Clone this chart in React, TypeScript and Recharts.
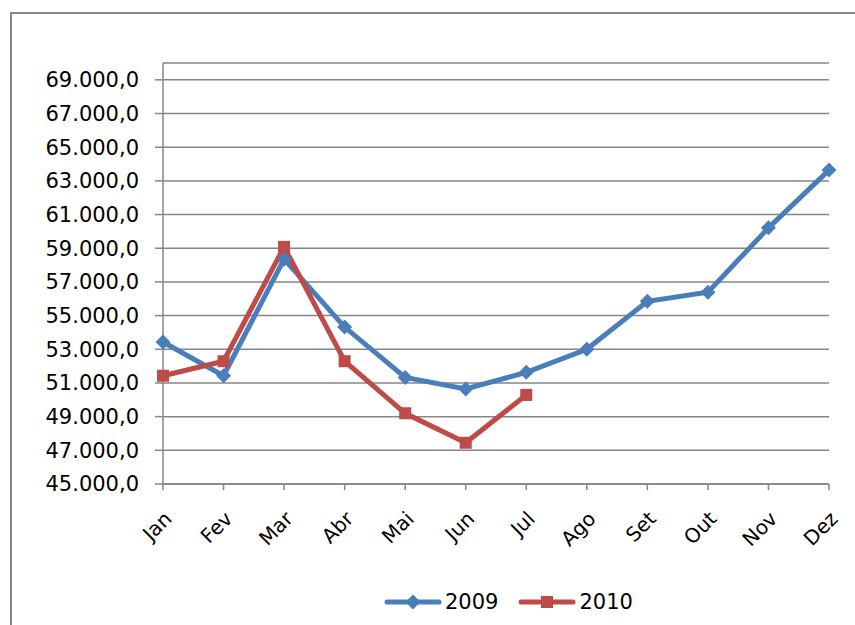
import React from 'react';
import { LineChart, Line, XAxis, YAxis, CartesianGrid } from 'recharts';

const months = ['Jan', 'Fev', 'Mar', 'Abr', 'Mai', 'Jun', 'Jul', 'Ago', 'Set', 'Out', 'Nov', 'Dez'];
const values2009 = [53430, 51430, 58350, 54320, 51330, 50640, 51630, 53000, 55850, 56390, 60210, 63640];
const values2010 = [51430, 52290, 59080, 52290, 49200, 47450, 50290];
const yTicks = [45000, 47000, 49000, 51000, 53000, 55000, 57000, 59000, 61000, 63000, 65000, 67000, 69000];

const data = months.map((m, i) => ({
  month: m,
  y2009: values2009[i],
  y2010: i < values2010.length ? values2010[i] : null,
}));

const BLUE = '#4a7ebb';
const RED = '#be4b48';
const GRAY = '#868686';
const FONT = '"DejaVu Sans", sans-serif';

// 45000 -> "45.000,0"
const fmt = (v: number) => {
  const s = Math.round(v).toString().replace(/\B(?=(\d{3})+(?!\d))/g, '.');
  return s + ',0';
};

const Diamond = (props: any) => {
  const { cx, cy } = props;
  if (cx == null || cy == null || props.value == null) return null;
  const r = 7.5;
  return <polygon points={`${cx},${cy - r} ${cx + r},${cy} ${cx},${cy + r} ${cx - r},${cy}`} fill={BLUE} />;
};

const Square = (props: any) => {
  const { cx, cy } = props;
  if (cx == null || cy == null || props.value == null) return null;
  return <rect x={cx - 6} y={cy - 6} width={12} height={12} fill={RED} />;
};

const MonthTick = ({ x, y, payload }: any) => (
  <text
    x={x + 10}
    y={y + 28}
    transform={`rotate(-45 ${x + 10} ${y + 28})`}
    textAnchor="end"
    fontFamily={FONT}
    fontSize={20}
    fill="#000"
  >
    {payload.value}
  </text>
);

const LegendItems = () => (
  <div style={{ position: 'absolute', left: 384, top: 590, display: 'flex', alignItems: 'center', fontFamily: FONT, fontSize: 21 }}>
    <svg width={58} height={16} style={{ marginRight: 3 }}>
      <line x1={3} y1={8} x2={55} y2={8} stroke={BLUE} strokeWidth={5} strokeLinecap="round" />
      <polygon points="29,0.5 36.5,8 29,15.5 21.5,8" fill={BLUE} />
    </svg>
    <span style={{ marginRight: 20 }}>2009</span>
    <svg width={58} height={16} style={{ marginRight: 3 }}>
      <line x1={3} y1={8} x2={55} y2={8} stroke={RED} strokeWidth={5} strokeLinecap="round" />
      <rect x={23} y={2} width={12} height={12} fill={RED} />
    </svg>
    <span>2010</span>
  </div>
);

export default function App() {
  return (
    <div style={{ position: 'absolute', left: 0, top: 0, width: 855, height: 625, overflow: 'hidden', background: '#fff' }}>
      <div style={{ position: 'absolute', left: 10, top: 12, width: 860, height: 640, borderLeft: `2px solid ${GRAY}`, borderTop: `2px solid ${GRAY}` }} />
      <LineChart width={855} height={625} data={data} margin={{ top: 63, right: 26, bottom: 81, left: 0 }}>
        <CartesianGrid vertical={false} stroke={GRAY} strokeWidth={1.5} />
        <XAxis
          dataKey="month"
          stroke={GRAY}
          strokeWidth={1.5}
          tickSize={6}
          height={60}
          interval={0}
          tick={<MonthTick />}
        />
        <YAxis
          width={163}
          domain={[45000, 70000]}
          ticks={yTicks}
          tickFormatter={fmt}
          stroke={GRAY}
          strokeWidth={1.5}
          tickSize={8}
          tickMargin={16}
          allowDataOverflow
          tick={{ fill: '#000', fontSize: 21, fontFamily: FONT }}
        />
        <Line
          type="linear"
          dataKey="y2009"
          stroke={BLUE}
          strokeWidth={5}
          dot={<Diamond />}
          activeDot={false}
          isAnimationActive={false}
        />
        <Line
          type="linear"
          dataKey="y2010"
          stroke={RED}
          strokeWidth={5}
          dot={<Square />}
          activeDot={false}
          isAnimationActive={false}
        />
      </LineChart>
      <LegendItems />
    </div>
  );
}
